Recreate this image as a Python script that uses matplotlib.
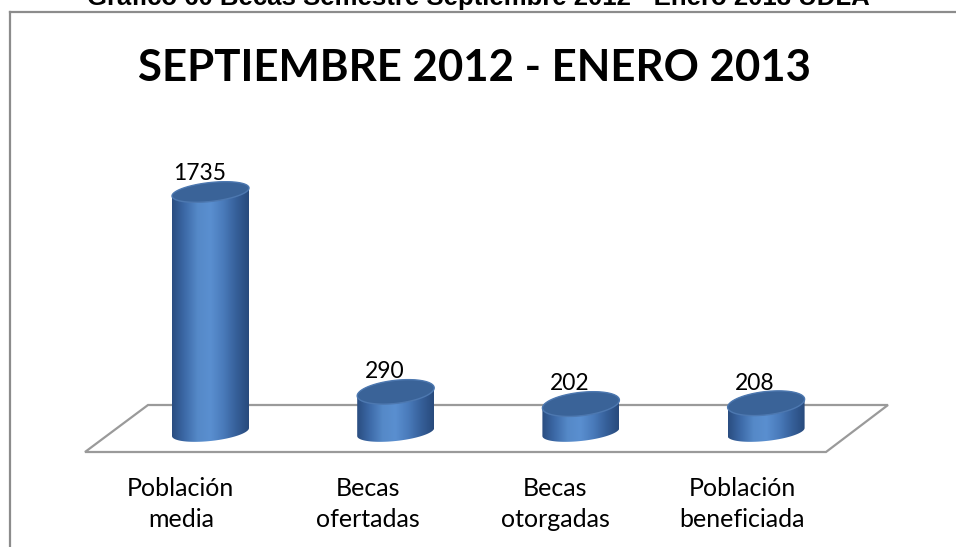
import numpy as np
import matplotlib
matplotlib.use("Agg")
import matplotlib.pyplot as plt
from matplotlib.patches import Polygon, PathPatch
from matplotlib.path import Path
from matplotlib.lines import Line2D
from matplotlib.colors import LinearSegmentedColormap

categories = ["Población\nmedia", "Becas\nofertadas", "Becas\notorgadas", "Población\nbeneficiada"]
values = [1735, 290, 202, 208]
caption = "Gráfico 60 Becas Semestre Septiembre 2012 - Enero 2013 UDLA"
chart_title = "SEPTIEMBRE 2012 - ENERO 2013"

W, H = 956, 547
fig = plt.figure(figsize=(W / 100, H / 100), dpi=100)
ax = fig.add_axes([0, 0, 1, 1])
ax.set_axis_off()

# axis scale: category step 185 px, 1735 units ~ 240 px, zero at 115 px from bottom
px_x = 185.2
px_y = 240 / 1735
x0_px, y0_px = 210.5, 115
ax.set_xlim(-x0_px / px_x, (W - x0_px) / px_x)
ax.set_ylim(-y0_px / px_y, (H - y0_px) / px_y)

# floor parallelogram (axes fraction)
floor = [(85 / W, 1 - 452 / H), (148 / W, 1 - 405 / H),
         (888 / W, 1 - 405 / H), (826 / W, 1 - 452 / H)]
ax.add_patch(Polygon(floor, closed=True, facecolor="white", edgecolor="#9a9a9a",
                     lw=1.6, transform=ax.transAxes, zorder=1))

cyl_cmap = LinearSegmentedColormap.from_list(
    "cyl", ["#2a4d80", "#3d6aa8", "#5589c8", "#5a8fd0", "#4a7bbb", "#36609a", "#284a7c"])

a = 38.5 / px_x      # half width
k = 4 / px_y         # tilt of the ellipses
b_bottom = 9 / px_y


def top_b(v):
    # ellipses higher up are seen flatter
    return (12 - 2.5 * v / 1735) / px_y


def ellipse_pts(cx, cy, b, t):
    return np.column_stack([cx + a * np.cos(t), cy + b * np.sin(t) + k * np.cos(t)])


for i, v in enumerate(values):
    cx = i
    bt = top_b(v)
    t_low = np.linspace(np.pi, 2 * np.pi, 60)
    t_up = np.linspace(0, np.pi, 60)
    pts = np.vstack([ellipse_pts(cx, 0, b_bottom, t_low), ellipse_pts(cx, v, bt, t_up)])
    body = PathPatch(Path(np.vstack([pts, pts[:1]])), facecolor="none", edgecolor="none")
    ax.add_patch(body)
    grad = np.linspace(0, 1, 256).reshape(1, -1)
    im = ax.imshow(grad, cmap=cyl_cmap, aspect="auto", zorder=2,
                   extent=[cx - a, cx + a, -b_bottom - k, v + bt + k], interpolation="bilinear")
    im.set_clip_path(body)

    t = np.linspace(0, 2 * np.pi, 120)
    ax.add_patch(Polygon(ellipse_pts(cx, v, bt, t), closed=True, facecolor="#3a6398",
                         edgecolor="#4d78b0", lw=1.0, zorder=3))

    ax.text(cx - 0.06, v + bt - 2 / px_y, str(v), ha="center", va="bottom",
            fontsize=16.5, family="Lato", color="black", zorder=4)
    ax.text(i * 1.01 - 0.16, -518, categories[i], ha="center", va="center",
            fontsize=18, family="Lato", linespacing=1.42, color="black")

# chart area frame (continues past the figure edges)
fig.add_artist(Line2D([10 / W, 10 / W], [0, 1 - 12 / H], color="#8c8c8c", lw=1.6))
fig.add_artist(Line2D([10 / W, 1], [1 - 12 / H, 1 - 12 / H], color="#8c8c8c", lw=1.6))

fig.text(474 / W, 1 - 68 / H, chart_title, ha="center", va="center",
         fontsize=31.5, fontweight="bold", family="Lato")
fig.text(478 / W, 1 - 5 / H, caption, ha="center", va="baseline",
         fontsize=18.5, fontweight="bold", family="Liberation Sans")

fig.savefig("out.png", dpi=100)
